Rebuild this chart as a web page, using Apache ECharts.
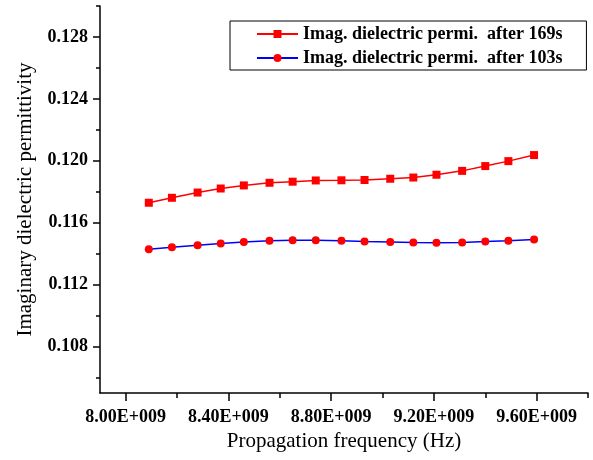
<!DOCTYPE html>
<html>
<head>
<meta charset="utf-8">
<script src="https://cdn.jsdelivr.net/npm/echarts@6/dist/echarts.min.js"></script>
<style>html,body{margin:0;padding:0;background:#fff;}#c{width:593px;height:460px;}</style>
</head>
<body>
<div id="c"></div>
<script>
var freqHz = [8.09e9, 8.18e9, 8.28e9, 8.37e9, 8.46e9, 8.56e9, 8.65e9, 8.74e9, 8.84e9, 8.93e9, 9.03e9, 9.12e9, 9.21e9, 9.31e9, 9.40e9, 9.49e9, 9.59e9];
var after169 = [0.11729, 0.11761, 0.11795, 0.11821, 0.11841, 0.11858, 0.11865, 0.11873, 0.11874, 0.11876, 0.11884, 0.11892, 0.11910, 0.11935, 0.11966, 0.11998, 0.12037];
var after103 = [0.11428, 0.11441, 0.11454, 0.11465, 0.11476, 0.11484, 0.11486, 0.11486, 0.11484, 0.11479, 0.11476, 0.11473, 0.11471, 0.11473, 0.11478, 0.11484, 0.11492];
var seriesNames = ['Imag. dielectric permi.  after 169s', 'Imag. dielectric permi.  after 103s'];
var xMajor = [8.0e9, 8.4e9, 8.8e9, 9.2e9, 9.6e9];
var xMinor = [8.2e9, 8.6e9, 9.0e9, 9.4e9, 9.8e9];
var yMajor = [0.108, 0.112, 0.116, 0.120, 0.124, 0.128];
var yMinor = [0.106, 0.110, 0.114, 0.118, 0.122, 0.126, 0.130];
var xRange = [7.9e9, 9.8e9];
var yRange = [0.105, 0.130];

var serif = 'Liberation Serif';
var lineBlack = {show: true, lineStyle: {color: '#000', width: 1.5}};
var chart = echarts.init(document.getElementById('c'), null, {renderer: 'canvas'});
chart.setOption({
  animation: false,
  backgroundColor: '#fff',
  grid: {left: 100, right: 5, top: 6, bottom: 67, containLabel: false},
  legend: {
    orient: 'vertical',
    left: 230, top: 21,
    padding: [3, 24, 2, 26],
    borderColor: '#000', borderWidth: 1,
    itemWidth: 41, itemHeight: 10, itemGap: 4,
    textStyle: {fontFamily: serif, fontWeight: 'bold', fontSize: 18, color: '#000', lineHeight: 20},
    data: seriesNames
  },
  xAxis: [{
    type: 'value', min: xRange[0], max: xRange[1],
    name: 'Propagation frequency (Hz)', nameLocation: 'middle', nameGap: 33,
    nameTextStyle: {fontFamily: serif, fontSize: 21, color: '#000'},
    axisLine: lineBlack,
    axisTick: {show: true, customValues: xMajor, length: 8, lineStyle: {color: '#000', width: 1.5}},
    axisLabel: {customValues: xMajor, margin: 15, fontFamily: serif, fontWeight: 'bold', fontSize: 18, color: '#000',
      formatter: function (v) { return (v / 1e9).toFixed(2) + 'E+009'; }},
    splitLine: {show: false}
  }, {
    type: 'value', min: xRange[0], max: xRange[1], position: 'bottom',
    axisLine: {show: false},
    axisTick: {show: true, customValues: xMinor, length: 5, lineStyle: {color: '#000', width: 1.5}},
    axisLabel: {show: false}, splitLine: {show: false}
  }],
  yAxis: [{
    type: 'value', min: yRange[0], max: yRange[1],
    name: 'Imaginary dielectric permittivity', nameLocation: 'middle', nameGap: 64,
    nameTextStyle: {fontFamily: serif, fontSize: 21, color: '#000'},
    axisLine: lineBlack,
    axisTick: {show: true, customValues: yMajor, length: 7, lineStyle: {color: '#000', width: 1.5}},
    axisLabel: {customValues: yMajor, margin: 12, fontFamily: serif, fontWeight: 'bold', fontSize: 18, color: '#000',
      formatter: function (v) { return v.toFixed(3); }},
    splitLine: {show: false}
  }, {
    type: 'value', min: yRange[0], max: yRange[1], position: 'left',
    axisLine: {show: false},
    axisTick: {show: true, customValues: yMinor, length: 4, lineStyle: {color: '#000', width: 1.5}},
    axisLabel: {show: false}, splitLine: {show: false}
  }],
  series: [{
    name: seriesNames[0], type: 'line', xAxisIndex: 0, yAxisIndex: 0,
    data: freqHz.map(function (f, i) { return [f, after169[i]]; }),
    symbol: 'rect', symbolSize: 8,
    lineStyle: {color: '#ff0000', width: 1.5},
    itemStyle: {color: '#ff0000'}
  }, {
    name: seriesNames[1], type: 'line', xAxisIndex: 0, yAxisIndex: 0,
    data: freqHz.map(function (f, i) { return [f, after103[i]]; }),
    symbol: 'circle', symbolSize: 8,
    lineStyle: {color: '#0000ff', width: 1.5},
    itemStyle: {color: '#ff0000'}
  }]
});
</script>
</body>
</html>
